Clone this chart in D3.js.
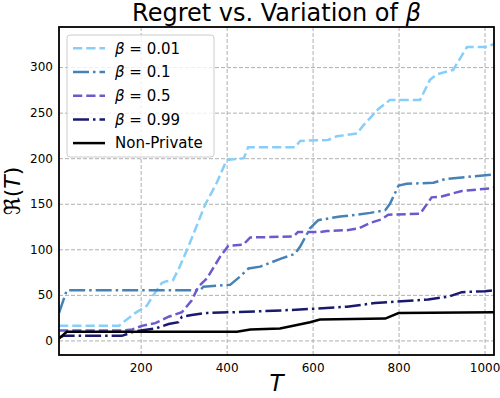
<!DOCTYPE html>
<html>
<head>
<meta charset="utf-8">
<script src="https://cdn.jsdelivr.net/npm/d3@7"></script>
<style>
  body { margin: 0; background: #fff; }
  text { font-family: "DejaVu Sans", sans-serif; }
</style>
</head>
<body>
<svg id="chart"></svg>
<script>
// Valeurs : [T, regret]
const beta001 = [[10,16],[150,16],[165,22],[187,30],[214,38],[230,50],[249,63],[260,65],[275,66],[290,80],[311,103],
  [350,149],[377,173],[400,198],[440,200],[450,212],[559,212],[571,219],[636,220],[656,224],[703,227],[718,236],
  [753,254],[780,264],[850,264],[873,286],[889,292],[927,297],[959,322],[1010,322],[1022,326]];
const beta01 = [[10,30],[28,55],[338,55],[346,59],[408,61],[431,70],[451,79],[478,81],[528,90],[559,95],[571,103],
  [594,123],[613,132],[664,136],[687,137],[734,140],[769,143],[780,150],[800,170],[819,172],[881,173],[908,177],
  [970,180],[1022,182]];
const beta05 = [[10,11],[160,11],[180,12],[203,16],[234,19],[265,26],[296,31],[319,44],[334,59],[354,68],[385,92],
  [404,104],[438,105],[455,113],[555,114],[566,119],[617,119],[633,120],[680,121],[707,123],[734,129],[761,133],
  [776,138],[850,139],[877,157],[900,158],[947,164],[1017,167],[1022,168]];
const beta099 = [[10,3],[20,5],[156,5],[187,10],[234,13],[265,18],[288,20],[296,26],[319,28],[350,30],[416,31],
  [532,33],[610,35],[680,37],[745,41],[807,43],[869,45],[916,48],[947,53],[1001,54],[1022,55]];
const nonPrivate = [[10,2],[28,9.5],[424,9.5],[455,12],[524,13],[555,16],[594,20],[617,23],[769,24],[800,30],[1022,31]];

const seriesNames = ["0.01", "0.1", "0.5", "0.99", "Non-Private"];
const xTicks = [200, 400, 600, 800, 1000];
const yTicks = [0, 50, 100, 150, 200, 250, 300];

const margin = { top: 27, right: 6, bottom: 43, left: 59 };
const width = 500 - margin.left - margin.right;
const height = 398 - margin.top - margin.bottom;

const root = d3.select("#chart")
    .attr("width", 500)
    .attr("height", 398);

const svg = root.append("g")
    .attr("transform", `translate(${margin.left},${margin.top})`);

const x = d3.scaleLinear().domain([10, 1022]).range([0, width]);
const y = d3.scaleLinear().domain([-16, 344]).range([height, 0]);

// grille
svg.append("g")
    .attr("class", "grid")
    .attr("transform", `translate(0,${height})`)
    .call(d3.axisBottom(x).tickValues(xTicks).tickSize(-height).tickFormat(""))
    .call(g => g.select(".domain").remove())
    .selectAll("line")
    .attr("stroke", "#b0b0b0")
    .attr("stroke-dasharray", "4,2");

svg.append("g")
    .attr("class", "grid")
    .call(d3.axisLeft(y).tickValues(yTicks).tickSize(-width).tickFormat(""))
    .call(g => g.select(".domain").remove())
    .selectAll("line")
    .attr("stroke", "#b0b0b0")
    .attr("stroke-dasharray", "4,2");

svg.append("clipPath")
    .attr("id", "clip")
    .append("rect")
    .attr("width", width)
    .attr("height", height);

const styles = [
    { data: beta001, color: "#87cefa", dash: "9.25,4" },
    { data: beta01, color: "#4682b4", dash: "16,4,2.5,4" },
    { data: beta05, color: "#6a5acd", dash: "9.25,4" },
    { data: beta099, color: "#191970", dash: "16,4,2.5,4" },
    { data: nonPrivate, color: "#000000", dash: null }
];

const line = d3.line()
    .x(d => x(d[0]))
    .y(d => y(d[1]));

svg.append("g")
    .attr("clip-path", "url(#clip)")
    .selectAll("path")
    .data(styles)
    .enter().append("path")
    .attr("d", d => line(d.data))
    .attr("fill", "none")
    .attr("stroke", d => d.color)
    .attr("stroke-width", 2.5)
    .attr("stroke-dasharray", d => d.dash);

// axes
const xAxis = svg.append("g")
    .attr("transform", `translate(0,${height})`)
    .call(d3.axisBottom(x).tickValues(xTicks).tickSize(0).tickPadding(8).tickFormat(d3.format("d")));
xAxis.select(".domain").remove();
xAxis.selectAll("text").style("font-size", "12px").attr("fill", "#000");

const yAxis = svg.append("g")
    .call(d3.axisLeft(y).tickValues(yTicks).tickSize(0).tickPadding(6));
yAxis.select(".domain").remove();
yAxis.selectAll("text").style("font-size", "12px").attr("fill", "#000");

svg.append("rect")
    .attr("width", width)
    .attr("height", height)
    .attr("fill", "none")
    .attr("stroke", "#000")
    .attr("stroke-width", 1.8);

// titre et labels
const title = root.append("text")
    .attr("x", margin.left + width / 2)
    .attr("y", 21)
    .style("text-anchor", "middle")
    .style("font-size", "24px");
title.append("tspan").text("Regret vs. Variation of ");
title.append("tspan").style("font-style", "italic").text("β");

root.append("text")
    .attr("x", margin.left + width / 2)
    .attr("y", 391)
    .style("text-anchor", "middle")
    .style("font-size", "23px")
    .style("font-style", "italic")
    .text("T");

const yLabel = root.append("text")
    .attr("transform", `translate(20,${margin.top + height / 2}) rotate(-90)`)
    .style("text-anchor", "middle")
    .style("font-size", "22px");
yLabel.append("tspan").text("ℜ(");
yLabel.append("tspan").style("font-style", "italic").text("T");
yLabel.append("tspan").text(")");

// légende
const legend = root.append("g")
    .attr("class", "legend")
    .attr("transform", "translate(67,35)");

legend.append("rect")
    .attr("width", 147)
    .attr("height", 122)
    .attr("rx", 3)
    .attr("fill", "#fff")
    .attr("fill-opacity", 0.8)
    .attr("stroke", "#cccccc");

const rows = legend.selectAll(".row")
    .data(styles)
    .enter().append("g")
    .attr("class", "row")
    .attr("transform", (d, i) => `translate(0,${13.3 + i * 23.7})`);

rows.append("line")
    .attr("x1", 6)
    .attr("x2", 38)
    .attr("stroke", d => d.color)
    .attr("stroke-width", 2.5)
    .attr("stroke-dasharray", d => d.dash);

rows.append("text")
    .attr("x", 48)
    .attr("dy", "0.35em")
    .style("font-size", "15px")
    .each(function(d, i) {
        const t = d3.select(this);
        if (i < 4) {
            t.append("tspan").style("font-style", "italic").text("β");
            t.append("tspan").text(" = " + seriesNames[i]);
        } else {
            t.text(seriesNames[i]);
        }
    });
</script>
</body>
</html>
